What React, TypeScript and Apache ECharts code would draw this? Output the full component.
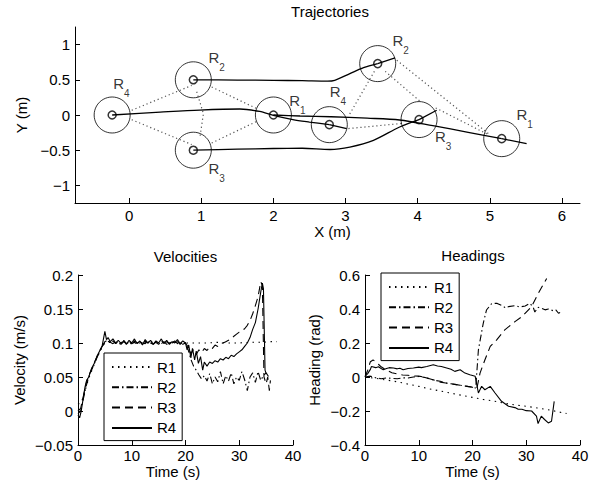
import { useEffect, useRef } from "react";
import * as echarts from "echarts";

const FONT = '"Liberation Sans", Arial, Helvetica, sans-serif';

// ---------- Trajectories ----------
const robotIds = ["1", "2", "3", "4"];
const startPos = [[2.0, 0], [0.89, 0.5], [0.89, -0.5], [-0.235, 0]];
const endPos = [[5.165, -0.336], [3.446, 0.73], [4.019, -0.065], [2.775, -0.137]];
const headingTips = [[5.51, -0.407], [3.686, 0.81], [4.264, 0.067], [3.016, -0.194]];
const startLabelPos = [[2.22, 0.21], [1.1, 0.82], [1.1, -0.76], [-0.22, 0.45]];
const endLabelPos = [[5.37, 0.005], [3.65, 1.06], [4.24, -0.31], [2.78, 0.33]];

const trajR1 = [[2.0, 0], [2.37, -0.014], [2.8, -0.025], [3.3, -0.045], [3.75, -0.071], [4.21, -0.152], [4.7, -0.246], [5.165, -0.336]];
const trajR2 = [[0.89, 0.5], [1.5, 0.496], [2.0, 0.492], [2.4, 0.487], [2.75, 0.48], [2.85, 0.492], [3.06, 0.588], [3.25, 0.673], [3.446, 0.73]];
const trajR3 = [[0.89, -0.5], [1.5, -0.485], [2.0, -0.476], [2.4, -0.472], [2.785, -0.49], [3.06, -0.455], [3.387, -0.36], [3.75, -0.17], [4.019, -0.065]];
const trajR4 = [[-0.235, 0], [0.43, 0.04], [0.98, 0.07], [1.535, 0.085], [1.81, 0.05], [2.0, -0.005], [2.27, -0.065], [2.5, -0.1], [2.775, -0.137]];

const startLinks = [
  [[0.036, 0.067], [0.868, 0.42]],
  [[0.036, -0.067], [0.868, -0.42]],
  [[1.145, 0.398], [1.77, 0.09]],
  [[1.145, -0.398], [1.77, -0.09]],
  [[0.937, 0.33], [1.03, 0.02], [0.98, -0.33]],
];
const endLinks = [
  [[3.4, 0.62], [3.05, 0.0]],
  [[3.71, 0.777], [4.98, -0.264]],
  [[3.55, 0.62], [4.05, 0.18]],
  [[4.25, 0.1], [4.98, -0.28]],
  [[3.04, -0.193], [3.78, -0.12]],
];

const topXTicks = [0, 1, 2, 3, 4, 5, 6];
const topYTicks = [-1, -0.5, 0, 0.5, 1];

// ---------- Velocities ----------
const timeTicks = [0, 10, 20, 30, 40];
const velYTicks = [-0.05, 0, 0.05, 0.1, 0.15, 0.2];
const velR1 = [[0, 0.01], [0.5, 0.012], [1, 0.02], [1.5, 0.035], [2, 0.048], [2.5, 0.058], [3, 0.068], [3.5, 0.077], [4, 0.086], [4.5, 0.094], [5, 0.1], [6, 0.101], [7, 0.1], [8, 0.101], [9, 0.1], [10, 0.101], [11, 0.1], [12, 0.1], [13, 0.101], [14, 0.1], [15, 0.1], [16, 0.101], [17, 0.1], [18, 0.101], [19, 0.1], [20, 0.1], [22, 0.1], [24, 0.1], [26, 0.101], [28, 0.1], [30, 0.1], [32, 0.101], [34, 0.101], [36, 0.102], [37, 0.102]];
const velR2 = [[0, -0.004], [0.5, 0.0], [1, 0.018], [1.5, 0.036], [2, 0.05], [2.5, 0.06], [3, 0.069], [3.5, 0.078], [4, 0.087], [4.5, 0.095], [5, 0.102], [5.5, 0.104], [6, 0.1], [6.5, 0.103], [7, 0.099], [7.5, 0.102], [8, 0.1], [8.5, 0.104], [9, 0.099], [9.5, 0.102], [10, 0.098], [10.5, 0.103], [11, 0.1], [11.5, 0.102], [12, 0.098], [12.5, 0.103], [13, 0.1], [13.5, 0.104], [14, 0.099], [14.5, 0.101], [15, 0.098], [15.5, 0.103], [16, 0.1], [16.5, 0.102], [17, 0.099], [17.5, 0.103], [18, 0.1], [18.5, 0.102], [19, 0.098], [19.5, 0.102], [20, 0.1], [20.5, 0.09], [21, 0.076], [21.5, 0.066], [22, 0.06], [22.5, 0.053], [23, 0.047], [23.5, 0.052], [24, 0.044], [24.5, 0.055], [25, 0.04], [25.5, 0.05], [26, 0.043], [26.5, 0.058], [27, 0.04], [27.5, 0.052], [28, 0.044], [28.5, 0.056], [29, 0.04], [29.5, 0.05], [30, 0.045], [30.5, 0.058], [31, 0.046], [31.5, 0.03], [32, 0.05], [32.5, 0.056], [33, 0.042], [33.5, 0.058], [34, 0.045], [34.5, 0.052], [35, 0.056], [35.5, 0.05]];
const velR3 = [[0, 0.0], [0.5, 0.004], [1, 0.022], [1.5, 0.04], [2, 0.052], [2.5, 0.061], [3, 0.07], [3.5, 0.079], [4, 0.088], [4.5, 0.095], [5, 0.101], [5.5, 0.103], [6, 0.101], [6.5, 0.099], [7, 0.102], [7.5, 0.1], [8, 0.098], [8.5, 0.102], [9, 0.1], [9.5, 0.103], [10, 0.099], [10.5, 0.101], [11, 0.098], [11.5, 0.102], [12, 0.1], [12.5, 0.099], [13, 0.103], [13.5, 0.1], [14, 0.098], [14.5, 0.102], [15, 0.1], [15.5, 0.099], [16, 0.102], [16.5, 0.098], [17, 0.101], [17.5, 0.1], [18, 0.103], [18.5, 0.099], [19, 0.101], [19.5, 0.098], [20, 0.1], [20.5, 0.094], [21, 0.084], [21.5, 0.091], [22, 0.083], [22.5, 0.09], [23, 0.086], [23.5, 0.092], [24, 0.089], [24.5, 0.094], [25, 0.092], [25.5, 0.097], [26, 0.095], [26.5, 0.099], [27, 0.1], [27.5, 0.102], [28, 0.104], [28.5, 0.106], [29, 0.11], [29.5, 0.113], [30, 0.116], [30.5, 0.118], [31, 0.121], [31.5, 0.126], [32, 0.133], [32.5, 0.143], [33, 0.155], [33.5, 0.168], [34, 0.19], [34.3, 0.185], [34.6, 0.05], [35, 0.04], [35.3, 0.05], [35.6, 0.03], [35.8, 0.045]];
const velR4 = [[0, -0.006], [0.3, -0.01], [0.6, 0.0], [1, 0.02], [1.3, 0.035], [1.6, 0.045], [2, 0.05], [2.5, 0.062], [3, 0.07], [3.5, 0.08], [4, 0.088], [4.5, 0.096], [5, 0.117], [5.3, 0.105], [5.6, 0.108], [6, 0.102], [6.5, 0.106], [7, 0.1], [7.5, 0.104], [8, 0.099], [8.5, 0.103], [9, 0.098], [9.5, 0.104], [10, 0.1], [10.5, 0.106], [11, 0.099], [11.5, 0.103], [12, 0.097], [12.5, 0.105], [13, 0.1], [13.5, 0.104], [14, 0.098], [14.5, 0.103], [15, 0.1], [15.5, 0.106], [16, 0.099], [16.5, 0.104], [17, 0.098], [17.5, 0.102], [18, 0.1], [18.5, 0.105], [19, 0.099], [19.5, 0.103], [20, 0.1], [20.3, 0.09], [20.6, 0.097], [21, 0.078], [21.3, 0.092], [21.7, 0.075], [22, 0.088], [22.4, 0.07], [22.8, 0.08], [23.2, 0.06], [23.5, 0.072], [24, 0.066], [24.5, 0.072], [25, 0.07], [25.5, 0.074], [26, 0.072], [26.5, 0.077], [27, 0.075], [27.5, 0.079], [28, 0.077], [28.5, 0.082], [29, 0.08], [29.5, 0.084], [30, 0.087], [30.5, 0.09], [31, 0.095], [31.5, 0.1], [32, 0.108], [32.5, 0.12], [33, 0.13], [33.5, 0.15], [34, 0.175], [34.3, 0.188], [34.5, 0.18], [34.8, 0.06], [35, 0.055]];

// ---------- Headings ----------
const hdgYTicks = [-0.4, -0.2, 0, 0.2, 0.4, 0.6];
const hdgR1 = [[0, 0], [2, -0.008], [4, -0.018], [6, -0.028], [8, -0.042], [10, -0.055], [12, -0.07], [14, -0.082], [16, -0.095], [18, -0.108], [20, -0.12], [22, -0.132], [24, -0.142], [26, -0.155], [28, -0.165], [30, -0.172], [32, -0.182], [34, -0.192], [36, -0.205], [37.5, -0.215]];
const hdgR2 = [[0, 0], [1, 0.005], [2, -0.005], [3, -0.01], [4, -0.005], [5, -0.008], [6, -0.01], [7, -0.005], [8, -0.006], [9, 0.0], [10, 0.003], [11, -0.002], [12, -0.01], [13, -0.02], [14, -0.025], [15, -0.035], [16, -0.04], [17, -0.045], [18, -0.05], [19, -0.055], [20, -0.06], [20.6, -0.065], [21.1, 0.16], [22, 0.316], [22.6, 0.394], [23.6, 0.433], [24.6, 0.433], [25.5, 0.42], [26.2, 0.405], [26.7, 0.414], [27.9, 0.42], [28.8, 0.412], [29.8, 0.418], [30.7, 0.433], [31.3, 0.41], [31.6, 0.382], [32.2, 0.41], [32.8, 0.404], [33.5, 0.395], [34.1, 0.4], [35, 0.39], [35.5, 0.395], [36, 0.375], [36.3, 0.38]];
const hdgR3 = [[0, 0], [0.5, 0.04], [1, 0.09], [1.5, 0.1], [2, 0.09], [2.5, 0.075], [3, 0.06], [3.5, 0.05], [4, 0.04], [5, 0.025], [6, 0.018], [7, 0.012], [8, 0.01], [9, 0.006], [10, 0.005], [11, 0.0], [12, -0.01], [13, -0.02], [14, -0.03], [15, -0.035], [16, -0.04], [17, -0.045], [18, -0.05], [19, -0.055], [20, -0.06], [20.8, -0.07], [21.4, 0.023], [22.3, 0.1], [23.3, 0.18], [24.5, 0.218], [26, 0.277], [27.9, 0.326], [29.2, 0.355], [31, 0.414], [32.2, 0.49], [33.8, 0.58]];
const hdgR4 = [[0, 0.003], [0.5, 0.02], [1, 0.045], [1.2, 0.062], [2, 0.055], [2.5, 0.06], [3, 0.05], [3.4, 0.043], [4, 0.05], [4.5, 0.055], [5.3, 0.053], [6, 0.048], [6.5, 0.052], [7.1, 0.043], [8, 0.05], [9, 0.053], [10, 0.058], [10.5, 0.055], [11.5, 0.062], [12.7, 0.072], [13.5, 0.065], [14.2, 0.062], [15.2, 0.053], [16, 0.045], [16.7, 0.033], [17.7, 0.043], [18.6, 0.023], [19.5, 0.013], [20.5, 0.004], [21.1, -0.094], [21.7, -0.055], [22.3, -0.075], [23.3, -0.055], [24.2, -0.094], [25.4, -0.143], [26.7, -0.172], [27.9, -0.18], [28.5, -0.19], [29.2, -0.19], [30, -0.198], [31, -0.2], [31.9, -0.23], [32.2, -0.274], [32.8, -0.23], [33.4, -0.25], [34.1, -0.27], [34.7, -0.26], [35.2, -0.143]];

const seriesNames = ["R1", "R2", "R3", "R4"];
const dashTypes: any[] = [[1.5, 4.5], [7, 3, 1.5, 3], [8, 5], "solid"];
const velData = [velR1, velR2, velR3, velR4];
const hdgData = [hdgR1, hdgR2, hdgR3, hdgR4];
const trajData = [trajR1, trajR2, trajR3, trajR4];

const fmt = (v: number) => String(Math.round(v * 1000) / 1000).replace("-", "\u2212");

const textBase = { color: "#000", fontFamily: FONT, fontSize: 15 };

function makeAxis(opts: any) {
  return {
    type: "value",
    nameLocation: "middle",
    nameTextStyle: { ...textBase },
    axisLine: { show: true, onZero: false, lineStyle: { color: "#000", width: 1 } },
    axisTick: { show: true, inside: true, length: 5, customValues: opts.ticks, lineStyle: { color: "#000", width: 1 } },
    axisLabel: { ...textBase, margin: opts.margin, customValues: opts.ticks, formatter: fmt },
    splitLine: { show: false },
    ...opts.extra,
  };
}

export default function App() {
  const ref = useRef<HTMLDivElement>(null);
  useEffect(() => {
    if (!ref.current) return;
    const chart = echarts.init(ref.current, null, { renderer: "svg" });

    const series: any[] = [];
    // formation links
    [...startLinks, ...endLinks].forEach((seg) => {
      series.push({
        type: "line", xAxisIndex: 0, yAxisIndex: 0, data: seg, symbol: "none", silent: true,
        lineStyle: { color: "#555", width: 1.2, type: [1.2, 2.8] }, z: 1,
      });
    });
    // trajectories
    trajData.forEach((d) => {
      series.push({
        type: "line", xAxisIndex: 0, yAxisIndex: 0, data: d, symbol: "none", silent: true, smooth: 0.3,
        lineStyle: { color: "#000", width: 1.3 }, z: 2,
      });
    });
    // heading indicators
    endPos.forEach((p, i) => {
      series.push({
        type: "line", xAxisIndex: 0, yAxisIndex: 0, data: [p, headingTips[i]], symbol: "none", silent: true,
        lineStyle: { color: "#000", width: 1.3 }, z: 2,
      });
    });
    // robot circles
    const allPos = [...startPos, ...endPos];
    series.push({
      type: "scatter", xAxisIndex: 0, yAxisIndex: 0, data: allPos, symbol: "circle", symbolSize: 36, silent: true,
      itemStyle: { color: "rgba(0,0,0,0)", borderColor: "#000", borderWidth: 1 }, z: 3,
    });
    series.push({
      type: "scatter", xAxisIndex: 0, yAxisIndex: 0, data: allPos, symbol: "circle", symbolSize: 8, silent: true,
      itemStyle: { color: "rgba(0,0,0,0)", borderColor: "#000", borderWidth: 1.5 }, z: 3,
    });
    // labels
    const labelData = [...startLabelPos, ...endLabelPos].map((p, i) => ({ value: p, name: robotIds[i % 4] }));
    series.push({
      type: "scatter", xAxisIndex: 0, yAxisIndex: 0, data: labelData, symbolSize: 0, silent: true, z: 4,
      itemStyle: { color: "rgba(0,0,0,0)" },
      label: {
        show: true, position: "right", distance: 0, align: "left", verticalAlign: "middle",
        formatter: (p: any) => `{r|R}{s|${p.name}}`,
        rich: {
          r: { fontSize: 15, lineHeight: 15, fontFamily: FONT, color: "#000" },
          s: { fontSize: 10, lineHeight: 10, fontFamily: FONT, color: "#000", padding: [20, 0, 0, 0] },
        },
      },
    });
    // velocities and headings
    seriesNames.forEach((n, i) => {
      series.push({
        name: n, type: "line", xAxisIndex: 1, yAxisIndex: 1, data: velData[i], symbol: "none", showSymbol: false,
        silent: true, itemStyle: { color: "#000" }, lineStyle: { color: "#000", width: 1.1, type: dashTypes[i] },
      });
    });
    seriesNames.forEach((n, i) => {
      series.push({
        name: n, type: "line", xAxisIndex: 2, yAxisIndex: 2, data: hdgData[i], symbol: "none", showSymbol: false,
        silent: true, itemStyle: { color: "#000" }, lineStyle: { color: "#000", width: 1.1, type: dashTypes[i] },
      });
    });

    const legendBase = {
      data: seriesNames, orient: "vertical", itemWidth: 40, itemHeight: 14, itemGap: 5.3,
      padding: [6.5, 6, 5.2, 7], borderColor: "#000", borderWidth: 1, backgroundColor: "#fff",
      textStyle: { ...textBase }, selectedMode: false, z: 10,
      itemStyle: { opacity: 0, borderWidth: 0 },
    };

    chart.setOption({
      animation: false,
      backgroundColor: "#fff",
      textStyle: { fontFamily: FONT },
      grid: [
        { left: 75, top: 27, width: 505, height: 176, outerBoundsMode: "none" },
        { left: 78, top: 275, width: 215, height: 170, outerBoundsMode: "none" },
        { left: 365, top: 275, width: 215, height: 170, outerBoundsMode: "none" },
      ],
      xAxis: [
        makeAxis({ ticks: topXTicks, margin: 5, extra: { gridIndex: 0, min: -0.75, max: 6.25, name: "X (m)", nameGap: 17, nameTextStyle: { ...textBase, padding: [0, 0, 0, 10] } } }),
        makeAxis({ ticks: timeTicks, margin: 3, extra: { gridIndex: 1, min: 0, max: 40, name: "Time (s)", nameGap: 17, nameTextStyle: { ...textBase, padding: [0, 25, 0, 0] } } }),
        makeAxis({ ticks: timeTicks, margin: 3, extra: { gridIndex: 2, min: 0, max: 40, name: "Time (s)", nameGap: 17 } }),
      ],
      yAxis: [
        makeAxis({ ticks: topYTicks, margin: 5, extra: { gridIndex: 0, min: -1.25, max: 1.25, name: "Y (m)", nameGap: 38 } }),
        makeAxis({ ticks: velYTicks, margin: 5, extra: { gridIndex: 1, min: -0.05, max: 0.2, name: "Velocity (m/s)", nameGap: 51 } }),
        makeAxis({ ticks: hdgYTicks, margin: 5, extra: { gridIndex: 2, min: -0.4, max: 0.6, name: "Heading (rad)", nameGap: 43 } }),
      ],
      legend: [
        { ...legendBase, left: 104, top: 353 },
        { ...legendBase, left: 381, top: 273 },
      ],
      graphic: [
        { type: "text", x: 330, y: 11, style: { text: "Trajectories", font: `15px ${FONT}`, fill: "#000", textAlign: "center", textVerticalAlign: "middle" } },
        { type: "text", x: 185.5, y: 256, style: { text: "Velocities", font: `15px ${FONT}`, fill: "#000", textAlign: "center", textVerticalAlign: "middle" } },
        { type: "text", x: 473, y: 255, style: { text: "Headings", font: `15px ${FONT}`, fill: "#000", textAlign: "center", textVerticalAlign: "middle" } },
      ],
      series,
    });
    return () => chart.dispose();
  }, []);
  return <div ref={ref} style={{ position: "fixed", left: 0, top: 0, width: 601, height: 493 }} />;
}
